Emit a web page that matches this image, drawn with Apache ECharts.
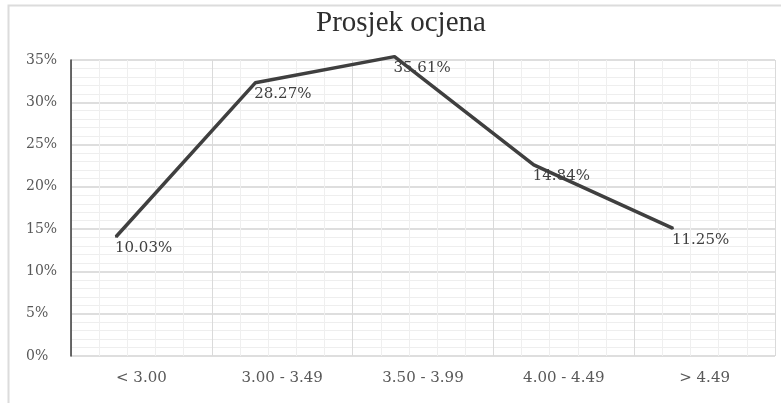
<!DOCTYPE html>
<html><head><meta charset="utf-8">
<script src="https://cdn.jsdelivr.net/npm/echarts@6/dist/echarts.min.js"></script>
<style>html,body{margin:0;padding:0;background:#fff}#c{width:781px;height:403px}</style>
</head><body><div id="c"></div>
<script>
const chartTitle = 'Prosjek ocjena';
const categories = ['< 3.00', '3.00 - 3.49', '3.50 - 3.99', '4.00 - 4.49', '> 4.49'];
const lineValues = [0.141, 0.323, 0.354, 0.226, 0.151];
const pointLabels = ['10.03%', '28.27%', '35.61%', '14.84%', '11.25%'];
const yMin = 0, yMax = 0.35, yStep = 0.05;

const chart = echarts.init(document.getElementById('c'), null, {renderer: 'canvas'});
const serif = 'DejaVu Serif';
chart.setOption({
  animation: false,
  backgroundColor: '#ffffff',
  title: {
    text: chartTitle, left: 311, top: 4,
    textStyle: {fontFamily: 'Liberation Serif', fontSize: 29, fontWeight: 'normal', color: '#2e2e2e'}
  },
  graphic: [{
    type: 'rect', silent: true, z: -10,
    shape: {x: 8.5, y: 5.5, width: 790, height: 420},
    style: {fill: 'none', stroke: '#dcdcdc', lineWidth: 2}
  }],
  grid: [
    {left: 71, right: 6, top: 60, bottom: 47},
    {left: 116, right: 108, top: 60, bottom: 47}
  ],
  xAxis: [
    {
      type: 'category', gridIndex: 0, data: categories, boundaryGap: true,
      axisLine: {show: false}, axisTick: {show: false}, splitLine: {show: false},
      axisLabel: {margin: 15, fontFamily: serif, fontSize: 15, color: '#595959'}
    },
    {
      type: 'category', gridIndex: 1, data: categories, boundaryGap: false, show: false
    },
    {
      type: 'value', gridIndex: 0, min: 0, max: 5, interval: 1,
      axisLine: {show: false}, axisTick: {show: false}, axisLabel: {show: false},
      splitLine: {show: true, lineStyle: {color: '#dadada', width: 1}},
      minorTick: {show: false, splitNumber: 5},
      minorSplitLine: {show: true, lineStyle: {color: '#efefef', width: 1}}
    }
  ],
  yAxis: [
    {
      type: 'value', gridIndex: 0, min: yMin, max: yMax, interval: yStep,
      axisLine: {show: true, lineStyle: {color: '#3a3a3a', width: 1.5}},
      axisTick: {show: false},
      axisLabel: {
        align: 'left', margin: 45, fontFamily: serif, fontSize: 14, color: '#595959',
        formatter: v => Math.round(v * 100) + '%'
      },
      splitLine: {show: true, lineStyle: {color: '#dedede', width: 2}},
      minorTick: {show: false, splitNumber: 5},
      minorSplitLine: {show: true, lineStyle: {color: '#eeeeee', width: 1}}
    },
    {
      type: 'value', gridIndex: 1, min: yMin, max: yMax, show: false
    }
  ],
  series: [{
    type: 'line', xAxisIndex: 1, yAxisIndex: 1, clip: false, z: 5,
    data: lineValues,
    symbol: 'circle', symbolSize: 2,
    itemStyle: {color: '#3f3f3f'},
    lineStyle: {color: '#3f3f3f', width: 3.5},
    label: {
      show: true, position: [0, 5], align: 'left', verticalAlign: 'top',
      fontFamily: serif, fontSize: 15, color: '#404040',
      formatter: p => pointLabels[p.dataIndex]
    }
  }]
});
</script>
</body></html>
